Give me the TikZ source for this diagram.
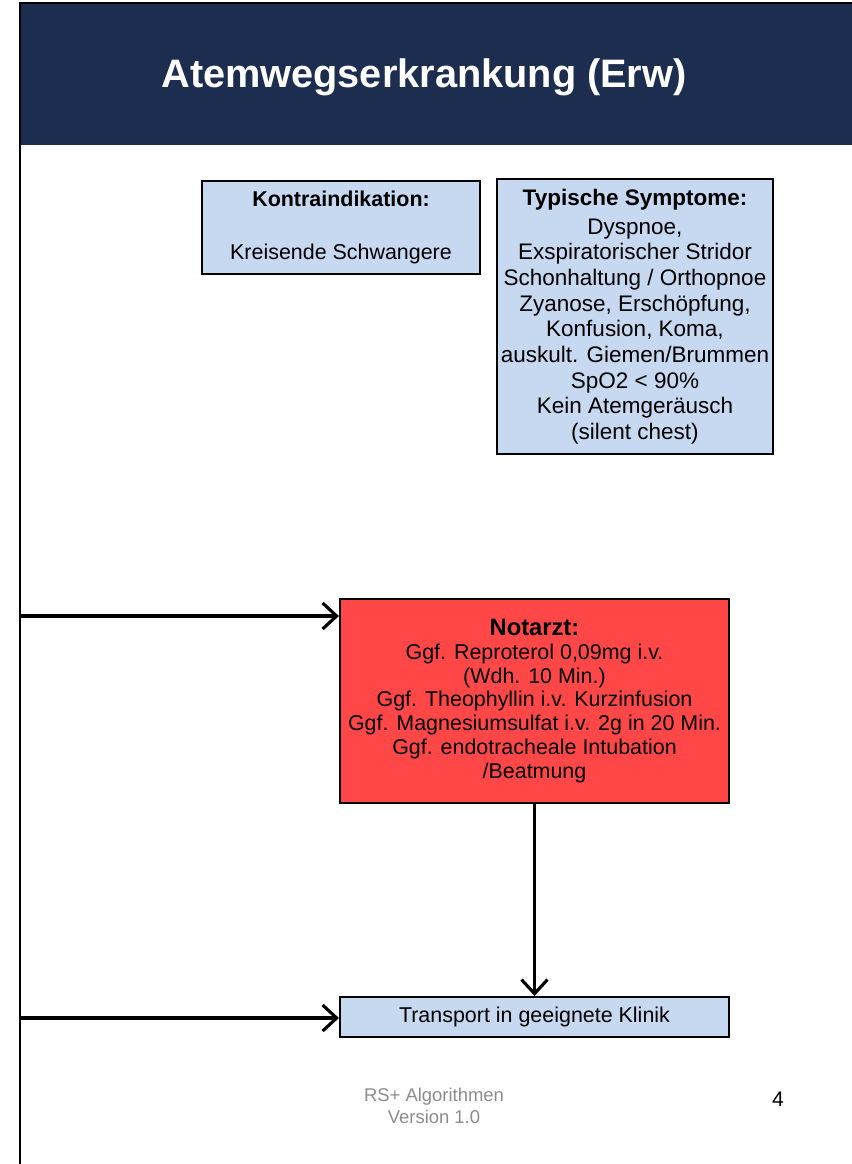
\documentclass[tikz,border=0pt]{standalone}
\usepackage{fontspec}
\setmainfont{Liberation Sans}
\usetikzlibrary{arrows.meta,positioning,calc}

\begin{document}
\begin{tikzpicture}[every node/.style={font=\fontsize{12.2}{13.5}\selectfont},
    infobox/.style={draw=black, line width=1.2pt, fill=rsblue, align=center, inner sep=2pt},
    flow/.style={-{Straight Barb[length=2.8mm,width=5.2mm,line width=1.8pt]}, line width=1.8pt, black}]
        \definecolor{rsnavy}{RGB}{28,45,80}
        \definecolor{rsblue}{RGB}{198,217,241}
        \definecolor{rsred}{RGB}{255,71,71}
        \definecolor{rsgray}{RGB}{140,140,140}

        \useasboundingbox (0,0) rectangle (17.04,-23.28);

        % Title bar
        \fill[rsnavy] (0.4,-0.06) rectangle (17.04,-2.9);
        \draw[black, line width=0.8pt] (0.4,-2.9) -- (0.4,-0.06) -- (17.04,-0.06);
        \node[text=white, font=\fontsize{22.6}{26}\selectfont\bfseries] (title) at (8.48,-1.55) {Atemwegserkrankung (Erw)};

        % Left feed line
        \coordinate (top) at (0.4,-2.9);
        \coordinate (bottom) at (0.4,-23.28);
        \draw[black, line width=1.2pt] (top) -- (bottom);

        % Info boxes
        \node[infobox, minimum width=5.56cm, minimum height=1.86cm] (kontra) at (6.82,-4.55)
            {\textbf{Kontraindikation:}\\[1.4em] Kreisende Schwangere};
        \node[infobox, inner xsep=0pt, minimum width=5.52cm, minimum height=5.5cm, font=\fontsize{12.8}{14.6}\selectfont] (symptome) at (12.7,-6.33)
            {\textbf{Typische Symptome:}\\[2pt] Dyspnoe,\\ Exspiratorischer Stridor\\ Schonhaltung / Orthopnoe\\ Zyanose, Erschöpfung,\\ Konfusion, Koma,\\ auskult. Giemen/Brummen\\ SpO2 < 90\%\\ Kein Atemgeräusch\\ (silent chest)};

        % Notarzt
        \node[infobox, fill=rsred, minimum width=7.78cm, minimum height=4.08cm] (notarzt) at (10.69,-14.02)
            {{\fontsize{13.5}{15}\selectfont\bfseries Notarzt:}\\ Ggf. Reproterol 0,09mg i.v.\\ (Wdh. 10 Min.)\\ Ggf. Theophyllin i.v. Kurzinfusion\\ Ggf. Magnesiumsulfat i.v. 2g in 20 Min.\\ Ggf. endotracheale Intubation\\ /Beatmung};

        % Transport
        \node[infobox, minimum width=7.78cm, minimum height=0.8cm] (transport) at (10.69,-20.34)
            {Transport in geeignete Klinik};

        % Arrows
        \coordinate (feed1) at (0.4,-12.32);
        \coordinate (feed2) at (0.4,-20.36);
        \draw[flow] (feed1) -- (feed1 -| notarzt.west);
        \draw[flow] (feed2) -- (feed2 -| transport.west);
        \draw[flow] (notarzt.south) -- (transport.north);

        % Footer
        \node[text=rsgray, align=center, font=\fontsize{10.5}{12.5}\selectfont] (footer) at (8.68,-22.12) {RS+ Algorithmen\\ Version 1.0};
        \node[font=\fontsize{12}{13}\selectfont] (page) at (15.56,-21.98) {4};
    \end{tikzpicture}
\end{document}
